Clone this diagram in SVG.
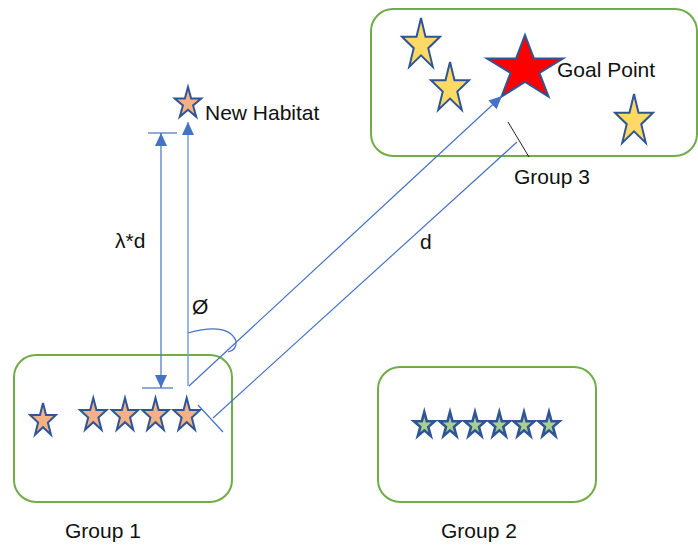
<svg xmlns="http://www.w3.org/2000/svg" xmlns:xlink="http://www.w3.org/1999/xlink" width="698" height="546" viewBox="0 0 698 546">
  <style>
    .box { fill: #ffffff; stroke: #70ad47; stroke-width: 2; }
    .label { font-family: "Liberation Sans", Arial, sans-serif; font-size: 21px; fill: #111111; }
    .link { fill: none; stroke: #4472c4; stroke-width: 1.2; }
    .soft { fill: none; stroke: #7d9fdc; stroke-width: 1.5; }
    .star { stroke: #2f5597; stroke-width: 2; stroke-linejoin: miter; }
    .orange { fill: #f4b183; }
    .yellow { fill: #ffd966; }
    .red { fill: #ff0000; }
    .green { fill: #a9d18e; stroke-width: 2.6; }
  </style>
  <defs>
    <!-- regular five-point star, outer radius 1 -->
    <path id="star" vector-effect="non-scaling-stroke" d="M0,-1 L0.2245,-0.309 L0.951,-0.309 L0.363,0.118 L0.588,0.809 L0,0.382 L-0.588,0.809 L-0.363,0.118 L-0.951,-0.309 L-0.2245,-0.309 Z"/>
    <marker id="head" viewBox="0 -6 13 12" refX="13" refY="0" markerWidth="13" markerHeight="12" markerUnits="userSpaceOnUse" orient="auto-start-reverse">
      <path d="M0,-6 L13,0 L0,6 Z" fill="#4472c4"/>
    </marker>
  </defs>

  <!-- group boxes -->
  <g id="group1">
    <rect class="box" x="14" y="355" width="218" height="147" rx="22"/>
    <use href="#star" class="star orange" transform="translate(43,420.5) scale(13.5,17.5)"/>
    <use href="#star" class="star orange" transform="translate(93.3,415.5) scale(14,17.5)"/>
    <use href="#star" class="star orange" transform="translate(125,415.5) scale(14,17.5)"/>
    <use href="#star" class="star orange" transform="translate(155.5,415.5) scale(14,17.5)"/>
    <use href="#star" class="star orange" transform="translate(186.7,415.5) scale(14,17.5)"/>
    <text class="label" x="65" y="538">Group 1</text>
  </g>

  <g id="group2">
    <rect class="box" x="378" y="367" width="218" height="135" rx="22"/>
    <use href="#star" class="star green" transform="translate(424.3,425.3) scale(11,13.3)"/>
    <use href="#star" class="star green" transform="translate(450,425.3) scale(11,13.3)"/>
    <use href="#star" class="star green" transform="translate(475,425.3) scale(11,13.3)"/>
    <use href="#star" class="star green" transform="translate(499.3,425.3) scale(11,13.3)"/>
    <use href="#star" class="star green" transform="translate(524,425.3) scale(11,13.3)"/>
    <use href="#star" class="star green" transform="translate(549,425.3) scale(11,13.3)"/>
    <text class="label" x="441" y="538">Group 2</text>
  </g>

  <g id="group3">
    <rect class="box" x="371" y="9" width="326" height="147" rx="22"/>
    <use href="#star" class="star yellow" transform="translate(421,45) scale(20,27)"/>
    <use href="#star" class="star yellow" transform="translate(450,88.5) scale(20,26.5)"/>
    <use href="#star" class="star yellow" transform="translate(634,121) scale(20,27)"/>
    <line x1="508" y1="122" x2="529" y2="157" stroke="#222222" stroke-width="1"/>
    <text class="label" x="514" y="184">Group 3</text>
  </g>

  <g id="goal-point">
    <use href="#star" class="star red" transform="translate(525,69) scale(40,34)"/>
    <text class="label" x="557" y="77">Goal Point</text>
  </g>

  <g id="new-habitat">
    <use href="#star" class="star orange" transform="translate(188,103.5) scale(14,16.5)"/>
    <text class="label" x="205" y="120">New Habitat</text>
  </g>

  <!-- connectors -->
  <g id="connectors">
    <!-- step toward the goal -->
    <line class="link" x1="189" y1="386" x2="502" y2="96" marker-end="url(#head)"/>
    <!-- resulting move -->
    <line class="soft" x1="188" y1="386" x2="188" y2="122" marker-end="url(#head)"/>
    <!-- distance d with end ticks -->
    <line class="link" x1="213" y1="418" x2="517" y2="142"/>
    <line class="link" x1="198" y1="405" x2="223" y2="432"/>
    <!-- scaled distance dimension -->
    <line class="link" x1="161" y1="133" x2="161" y2="388" marker-start="url(#head)" marker-end="url(#head)"/>
    <line class="link" x1="148" y1="133" x2="177" y2="133"/>
    <line class="link" x1="142" y1="388" x2="173" y2="388"/>
    <!-- angle arc -->
    <path class="link" d="M188,333 Q228,322 236,341 Q237,350 228,352"/>
  </g>

  <text class="label" x="115" y="248">λ*d</text>
  <text class="label" x="420" y="249">d</text>
  <text class="label" x="192" y="314" font-size="22">Ø</text>
</svg>
